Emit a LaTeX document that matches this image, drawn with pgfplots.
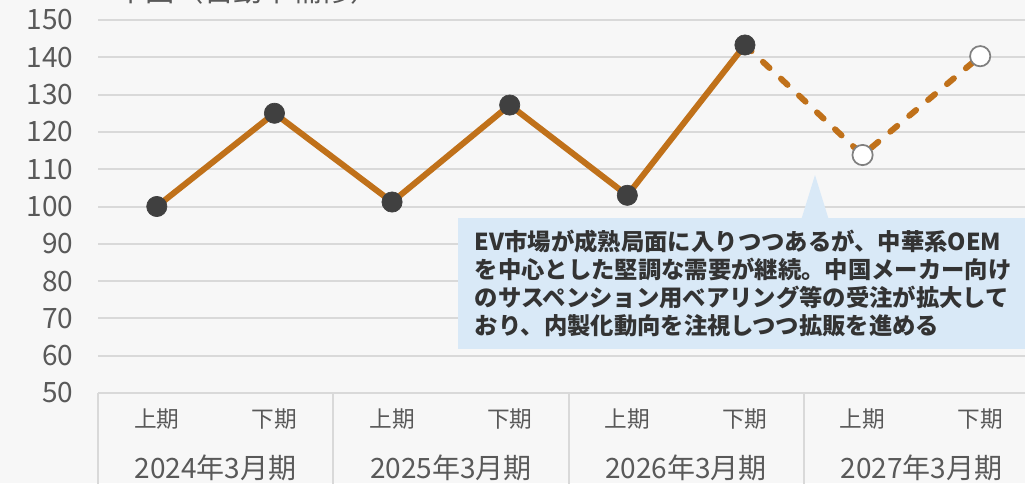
\documentclass[border=0pt]{standalone}
\usepackage{fontspec}
\setmainfont{Noto Sans CJK JP}
\usepackage{pgfplots}
\pgfplotsset{compat=1.18}
\definecolor{bgc}{HTML}{F7F7F7}
\definecolor{gridc}{HTML}{D9D9D9}
\definecolor{lineor}{HTML}{C0711A}
\definecolor{mk}{HTML}{404040}
\definecolor{txt}{HTML}{595959}
\definecolor{callc}{HTML}{D9E9F7}
\definecolor{calltxt}{HTML}{333333}
\begin{document}
\begin{tikzpicture}
\fill[bgc] (0,0) rectangle (768.75pt,362.25pt);
\begin{axis}[
  at={(73.5pt,67.5pt)}, anchor=south west,
  width=705.75pt, height=279.75pt, scale only axis,
  xmin=-0.5, xmax=7.5, ymin=50, ymax=150,
  ytick={50,60,...,150},
  xtick={0,...,7},
  xticklabels={上期,下期,上期,下期,上期,下期,上期,下期},
  axis line style={draw=none},
  major tick length=0pt,
  ymajorgrids,
  grid style={gridc, line width=1.5pt},
  /pgf/number format/assume math mode=true,
  yticklabel style={font=\fontsize{21}{21}\selectfont, text=txt, xshift=-15pt},
  xticklabel style={font=\fontsize{17}{17}\selectfont, text=txt, yshift=-8pt},
  clip=false,
]
\addplot[lineor, line width=4.5pt, line cap=round, dash pattern=on 6.75pt off 11.75pt]
  coordinates {(5,143.3)(6,113.8)(7,140.3)};
\addplot[lineor, line width=4.5pt, line join=round, mark=*, mark size=7.6pt,
  mark options={fill=mk, draw=mk, line width=0.5pt, solid}]
  coordinates {(0,100)(1,125)(2,101.2)(3,127.2)(4,103)(5,143.3)};
\addplot[only marks, mark=*, mark size=7.6pt,
  mark options={fill=white, draw=gray, line width=1.3pt}]
  coordinates {(6,113.8)(7,140.3)};
\draw[gridc, line width=1.5pt] (axis cs:-0.5,50) -- ([yshift=-80pt]axis cs:-0.5,50);
\draw[gridc, line width=1.5pt] (axis cs:1.5,50) -- ([yshift=-80pt]axis cs:1.5,50);
\draw[gridc, line width=1.5pt] (axis cs:3.5,50) -- ([yshift=-80pt]axis cs:3.5,50);
\draw[gridc, line width=1.5pt] (axis cs:5.5,50) -- ([yshift=-80pt]axis cs:5.5,50);
\node[font=\fontsize{21}{21}\selectfont, text=txt] at ([yshift=-56pt]axis cs:0.5,50) {2024年3月期};
\node[font=\fontsize{21}{21}\selectfont, text=txt] at ([yshift=-56pt]axis cs:2.5,50) {2025年3月期};
\node[font=\fontsize{21}{21}\selectfont, text=txt] at ([yshift=-56pt]axis cs:4.5,50) {2026年3月期};
\node[font=\fontsize{21}{21}\selectfont, text=txt] at ([yshift=-56pt]axis cs:6.5,50) {2027年3月期};
\end{axis}
\fill[callc] (343.5pt,100.5pt) rectangle (775pt,198.75pt);
\fill[callc] (600.75pt,197pt) -- (611.25pt,231pt) -- (621.75pt,197pt) -- cycle;
\node[anchor=north west, align=left, inner sep=0pt, text=calltxt,
  font=\bfseries\fontsize{17.5}{21}\selectfont] at (356pt,190pt)
  {EV市場が成熟局面に入りつつあるが、中華系OEM\\を中心とした堅調な需要が継続。中国メーカー向け\\のサスペンション用ベアリング等の受注が拡大して\\おり、内製化動向を注視しつつ拡販を進める};
\node[anchor=base west, inner sep=0pt, text=txt, font=\fontsize{22}{22}\selectfont]
  at (87pt,361pt) {中国（自動車補修）};
\pgfresetboundingbox
\useasboundingbox (0,0) rectangle (768.75pt,362.25pt);
\end{tikzpicture}
\end{document}
